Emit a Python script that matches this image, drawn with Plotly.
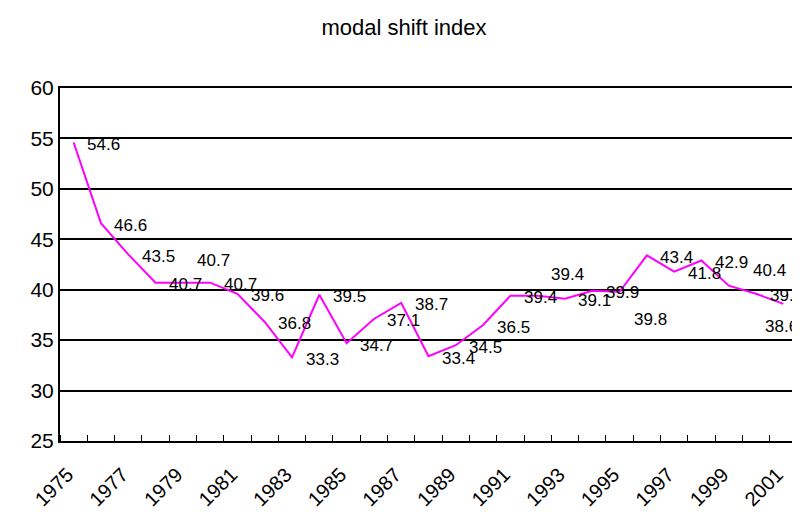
import plotly.graph_objects as go

years = list(range(1975, 2002))
values = [54.6, 46.6, 43.5, 40.7, 40.7, 40.7, 39.6, 36.8, 33.3, 39.5, 34.7, 37.1, 38.7,
          33.4, 34.5, 36.5, 39.4, 39.4, 39.1, 39.9, 39.8, 43.4, 41.8, 42.9, 40.4, 39.6, 38.6]
tick_years = list(range(1975, 2002, 2))
y_ticks = [25, 30, 35, 40, 45, 50, 55, 60]

# label offsets in pixels (right, down) relative to each point
label_dx = [30] * len(years)
label_dy = [2] * len(years)
for i, (dx, dy) in {4: (31, -22), 17: (30, -21), 20: (31, 28), 24: (41, -15), 26: (-2, 23)}.items():
    label_dx[i] = dx
    label_dy[i] = dy

FONT = "Liberation Sans, Arial, sans-serif"

fig = go.Figure()
fig.add_trace(go.Scatter(x=years, y=values, mode="lines",
                         line=dict(color="#FF00FF", width=2), hoverinfo="x+y"))

for i, (x, v) in enumerate(zip(years, values)):
    fig.add_annotation(x=x, y=v, text=f"{v}", showarrow=False,
                       xanchor="center", yanchor="middle",
                       xshift=label_dx[i], yshift=-label_dy[i],
                       font=dict(family=FONT, size=17, color="black"))

# page body adds an 8px margin, so the figure is sized 792x504
fig.update_layout(
    width=792, height=504,
    margin=dict(l=52, r=3, t=80, b=71),
    paper_bgcolor="white", plot_bgcolor="white",
    showlegend=False,
    title=dict(text="modal shift index", x=0.5, xanchor="center", y=0.962, yanchor="middle",
               font=dict(family=FONT, size=22, color="black")),
    font=dict(family=FONT, color="black"),
)
fig.update_xaxes(range=[1974.5, 2001.5], tickmode="array", tickvals=tick_years,
                 ticktext=[str(y) for y in tick_years], tickangle=-45, automargin=False,
                 ticks="", showgrid=False, zeroline=False,
                 ticklabelshift=-6, ticklabelstandoff=12,
                 showline=True, linecolor="black", linewidth=2, mirror=True,
                 tickfont=dict(family=FONT, size=20, color="black"),
                 minor=dict(tickmode="linear", tick0=1974.5, dtick=1, ticks="inside",
                            ticklen=6, tickcolor="black", tickwidth=1, showgrid=False))
fig.update_yaxes(range=[25, 60], tickmode="array", tickvals=y_ticks, ticks="", automargin=False,
                 showgrid=True, gridcolor="black", gridwidth=1.5, zeroline=False,
                 showline=True, linecolor="black", linewidth=2, mirror=True,
                 tickfont=dict(family=FONT, size=21, color="black"))

fig.write_html("out.html")
